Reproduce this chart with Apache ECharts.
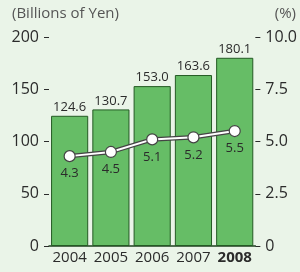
<!DOCTYPE html>
<html>
<head>
<meta charset="utf-8">
<script src="https://cdn.jsdelivr.net/npm/echarts@6/dist/echarts.min.js"></script>
<style>
html, body { margin: 0; padding: 0; background: #eaf4e8; }
#salesChart { width: 300px; height: 272px; }
</style>
</head>
<body>
<div id="salesChart"></div>
<script>
var years = ["2004", "2005", "2006", "2007", "2008"];
var sales = [124.6, 130.7, 153.0, 163.6, 180.1];   // billions of yen
var ratio = [4.3, 4.5, 5.1, 5.2, 5.5];              // %

var narrow = "'Liberation Sans Narrow', 'Open Sans', sans-serif";
var textColor = "#2b2b2b";

var chart = echarts.init(document.getElementById("salesChart"));
var option = {
  backgroundColor: "#eaf4e8",
  animation: false,
  grid: { left: 49, right: 41, top: 37, bottom: 26 },
  graphic: [
    { type: "text", left: 12, top: 6, style: { text: "(Billions of Yen)", fill: "#555", font: "15px 'Open Sans', sans-serif" } },
    { type: "text", right: 4, top: 6, style: { text: "(%)", fill: "#555", font: "15px 'Open Sans', sans-serif" } }
  ],
  xAxis: {
    type: "category",
    data: years,
    axisLine: { lineStyle: { color: "#1f3f1f", width: 1.5 } },
    axisTick: { show: false },
    axisLabel: {
      interval: 0,
      color: textColor,
      fontSize: 15,
      fontFamily: "'Open Sans', sans-serif",
      margin: 4,
      formatter: function (v) {
        return v === "2008" ? "{b|" + v + "}" : v;
      },
      rich: { b: { fontWeight: "bold", fontSize: 15, color: textColor, fontFamily: "'Open Sans', sans-serif" } }
    }
  },
  yAxis: [
    {
      type: "value",
      min: 0, max: 200, interval: 50,
      splitLine: { show: false },
      axisLine: { show: false },
      axisTick: { show: true, length: 5, lineStyle: { color: textColor } },
      axisLabel: { color: textColor, fontSize: 16, fontFamily: "'Open Sans', sans-serif", margin: 10 }
    },
    {
      type: "value",
      min: 0, max: 10, interval: 2.5,
      splitLine: { show: false },
      axisLine: { show: false },
      axisTick: { show: true, length: 5, lineStyle: { color: textColor } },
      axisLabel: {
        color: textColor, fontSize: 16, fontFamily: "'Open Sans', sans-serif", margin: 10,
        formatter: function (v) { return v === 0 ? "0" : v.toFixed(1); }
      }
    }
  ],
  series: [
    {
      type: "bar",
      data: sales,
      barWidth: "90%",
      itemStyle: { color: "#66bd66", borderColor: "#245a24", borderWidth: 1 },
      label: {
        show: true, position: "top", distance: 2,
        color: textColor, fontSize: 13, fontFamily: narrow,
        formatter: function (p) { return p.value.toFixed(1); }
      }
    },
    {
      // dark outline under the white line
      type: "line",
      yAxisIndex: 1,
      data: ratio,
      symbol: "none",
      lineStyle: { color: "#444", width: 4.5 },
      silent: true
    },
    {
      type: "line",
      yAxisIndex: 1,
      data: ratio,
      symbol: "circle",
      symbolSize: 11,
      lineStyle: { color: "#ffffff", width: 2 },
      itemStyle: { color: "#ffffff", borderColor: "#444", borderWidth: 1.2 },
      label: {
        show: true, position: "bottom", distance: 5,
        color: textColor, fontSize: 13, fontFamily: narrow,
        formatter: function (p) { return p.value.toFixed(1); }
      }
    }
  ]
};
chart.setOption(option);
</script>
</body>
</html>
